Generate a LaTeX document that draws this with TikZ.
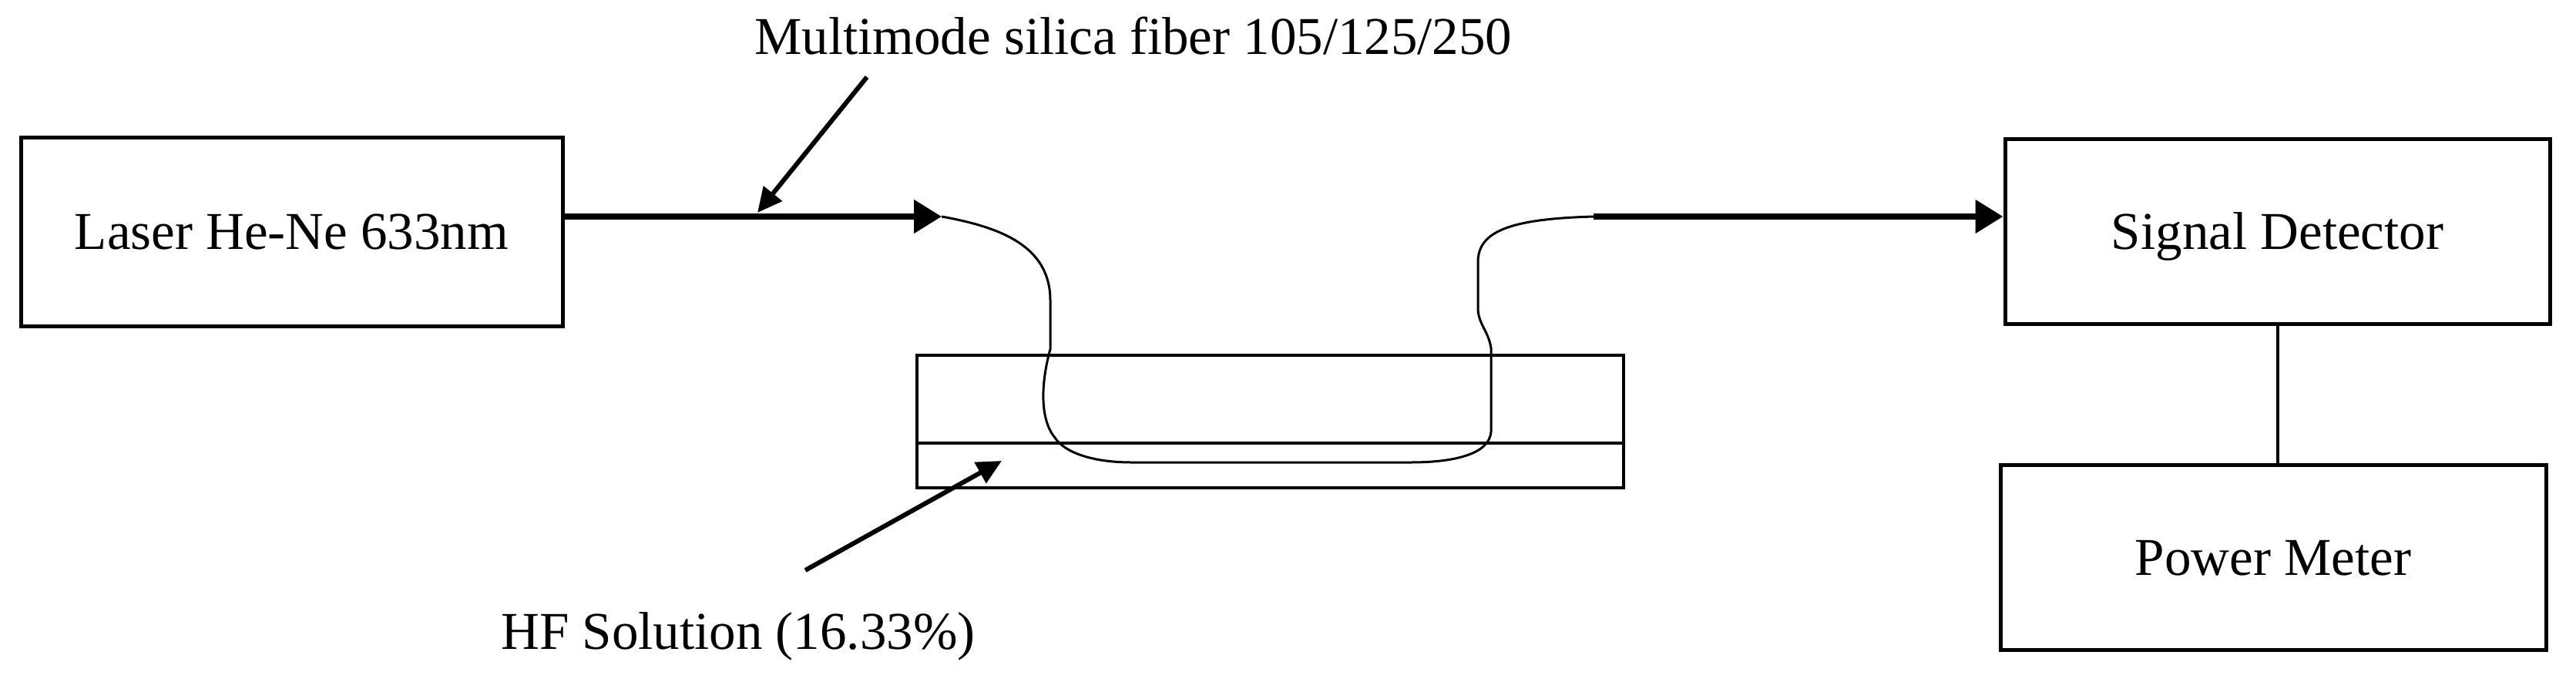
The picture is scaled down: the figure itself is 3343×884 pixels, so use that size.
\documentclass[tikz,border=0pt]{standalone}
\usepackage{fontspec}
\setmainfont{Liberation Serif}
\usetikzlibrary{arrows.meta}
\begin{document}
\begin{tikzpicture}[x=1pt,y=-1pt,
  txt/.style={font=\fontsize{69pt}{80pt}\selectfont},
  box/.style={draw,line width=5pt,inner sep=0pt,text height=46pt,text depth=0pt,txt},
  lbl/.style={inner sep=0pt,txt},
  beam/.style={line width=8pt,-{Triangle[length=36pt,width=42pt]}},
  fiber/.style={line width=3pt},
  pointer/.style={line width=6pt,-{Triangle[length=32pt,width=30pt]}}]
\useasboundingbox (0,0) rectangle (3343,884);
% boxes
\node[box,minimum width=703pt,minimum height=245pt] (laser) at (378.5,300.5) {Laser He-Ne 633nm};
\node[box,minimum width=707pt,minimum height=240pt] (sig) at (2955.5,300) {Signal Detector};
\node[box,minimum width=708pt,minimum height=240pt] (pm) at (2950,723) {Power Meter};
\node[draw,line width=4pt,inner sep=0pt,minimum width=917pt,minimum height=172pt] (tray) at (1648.5,547) {};
\coordinate (mid) at (0,575);
\draw[line width=4pt] (tray.west |- mid) -- (tray.east |- mid);
% labels
\node[lbl,anchor=base west] (mm) at (979,70) {Multimode silica fiber 105/125/250};
\node[lbl,anchor=base west] (hf) at (650,842) {HF Solution (16.33\%)};
% fiber
\coordinate (fin) at (1222,281);
\coordinate (fout) at (2068,281);
\draw[beam] (laser.east |- fin) -- (fin);
\draw[fiber] (fin) .. controls (1300,295) and (1363,320) .. (1363,390)
  -- (1363,453) .. controls (1350,500) and (1350,545) .. (1369,568)
  .. controls (1382,588) and (1420,600) .. (1468,600)
  -- (1831,600) .. controls (1885,600) and (1933,590) .. (1935,560)
  -- (1935,452) .. controls (1932,430) and (1918,420) .. (1918,400)
  -- (1918,340) .. controls (1918,300) and (1960,284) .. (fout);
\draw[beam] (fout) -- (fout -| sig.west);
\draw[line width=4pt] (sig.south) -- (sig.south |- pm.north);
% pointers
\coordinate (mmtop) at (1125,100);
\coordinate (mmtip) at (983,276);
\draw[pointer] (mmtop) -- (mmtip);
\coordinate (hfbot) at (1045,740);
\coordinate (hftip) at (1300,598);
\draw[pointer] (hfbot) -- (hftip);
\end{tikzpicture}
\end{document}
